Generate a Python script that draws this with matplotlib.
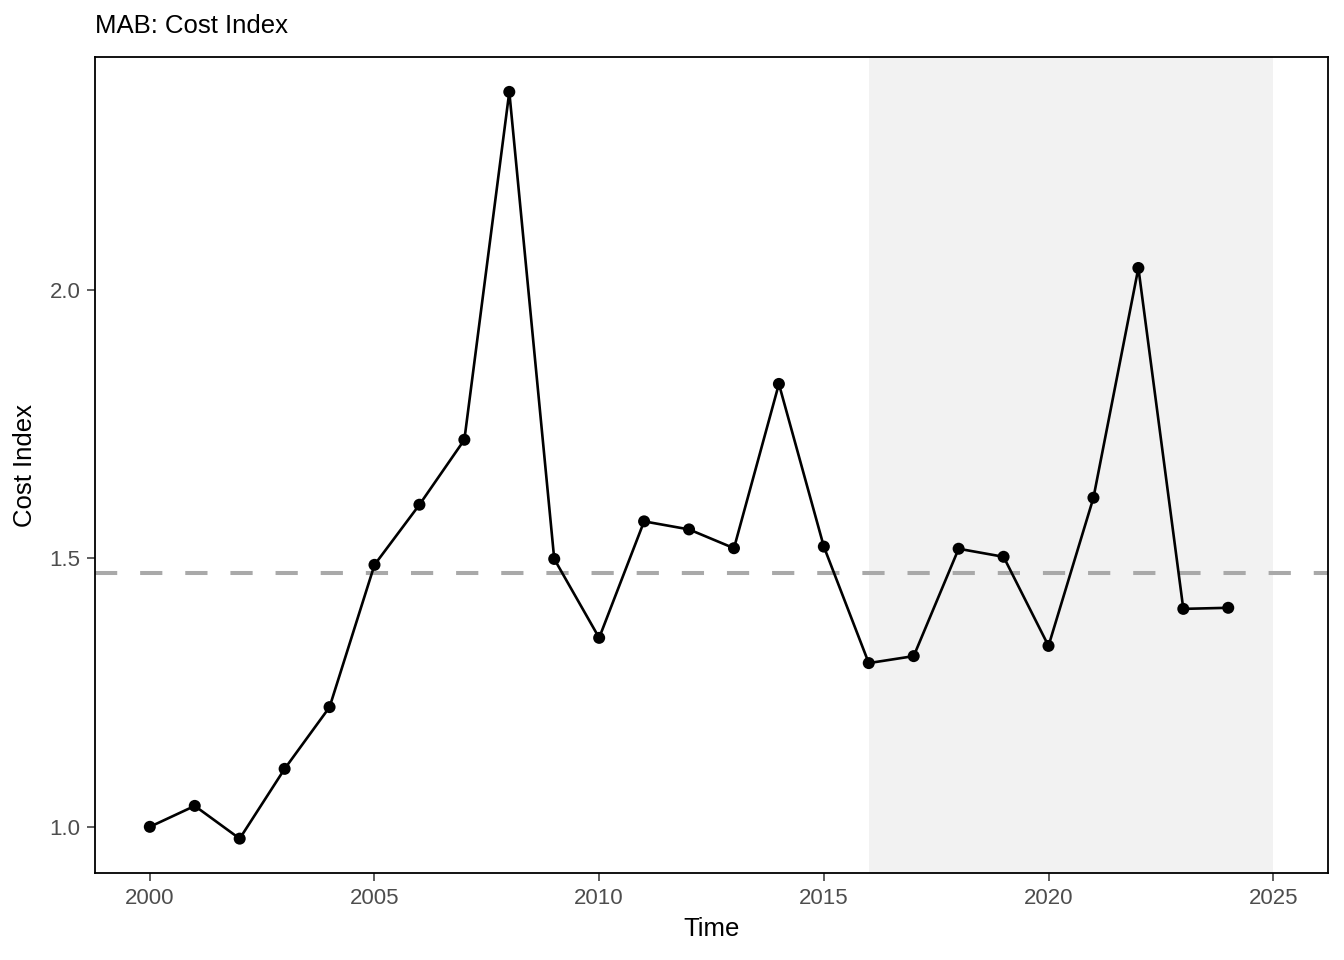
import matplotlib
matplotlib.use("Agg")
import matplotlib.pyplot as plt

years = list(range(2000, 2025))
cost_index = [1.000, 1.039, 0.978, 1.108, 1.223, 1.488, 1.600, 1.721, 2.369, 1.499,
              1.352, 1.569, 1.554, 1.519, 1.825, 1.522, 1.305, 1.318, 1.518, 1.503,
              1.337, 1.613, 2.041, 1.406, 1.408]
mean_line = 1.473
shade_start, shade_end = 2016, 2025

plt.rcParams['font.family'] = ['Liberation Sans', 'DejaVu Sans']

fig = plt.figure(figsize=(13.44, 9.6), dpi=100)
ax = fig.add_axes([95 / 1344, 1 - 873 / 960, (1328 - 95) / 1344, (873 - 57) / 960])

# shaded recent period + long-term mean
ax.axvspan(shade_start, shade_end, color='#F2F2F2', lw=0, zorder=0)
lw = 2.9
ax.axhline(mean_line, color='#A9A9A9', lw=lw, ls=(0, (16 / lw, 16.5 / lw)), zorder=1)
ax.plot(years, cost_index, color='black', lw=1.9, zorder=2)
ax.scatter(years, cost_index, color='black', s=75, zorder=3, edgecolors='none')

ax.set_xlim(1998.78, 2026.22)
ax.set_ylim(0.914, 2.434)
ax.set_xticks([2000, 2005, 2010, 2015, 2020, 2025])
ax.set_yticks([1.0, 1.5, 2.0])
ax.set_yticklabels(['1.0', '1.5', '2.0'])

for s in ax.spines.values():
    s.set_linewidth(1.3)
    s.set_color('black')
ax.tick_params(axis='both', length=5.5, width=1.1, color='#333333',
               labelsize=16, labelcolor='#4D4D4D', pad=5)

ax.set_xlabel('Time', fontsize=18.5, labelpad=6)
ax.set_ylabel('Cost Index', fontsize=18.5, labelpad=9)
ax.set_title('MAB: Cost Index', fontsize=18.5, loc='left', pad=17)

fig.savefig('out.png', dpi=100)
